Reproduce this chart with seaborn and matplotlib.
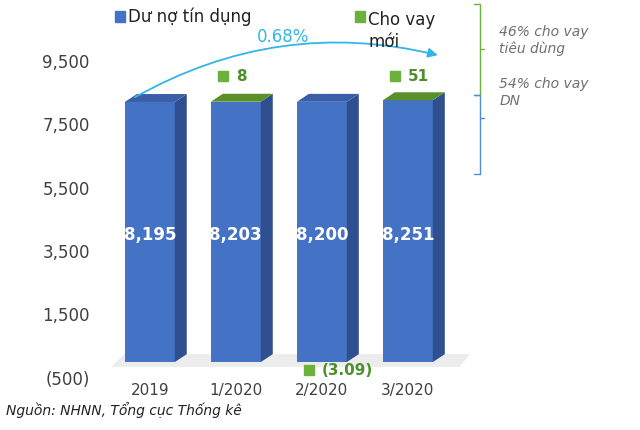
import matplotlib
matplotlib.use("Agg")
import matplotlib.pyplot as plt
import seaborn as sns
import pandas as pd
from matplotlib.patches import Polygon, FancyArrowPatch
from matplotlib.lines import Line2D

categories = ["2019", "1/2020", "2/2020", "3/2020"]
credit = [8195, 8203, 8200, 8251]
credit_labels = ["8,195", "8,203", "8,200", "8,251"]
new_loans = [None, "8", "(3.09)", "51"]
new_loan_y = [None, 9000, -250, 9000]
yticks = [-500, 1500, 3500, 5500, 7500, 9500]
ytick_labels = ["(500)", "1,500", "3,500", "5,500", "7,500", "9,500"]

sns.set_style("white")
fig = plt.figure(figsize=(6.4, 4.3), dpi=100)
ax = fig.add_axes([0.148, 0.121, 0.586, 0.812])
df = pd.DataFrame({"cat": categories, "val": credit})
sns.barplot(data=df, x="cat", y="val", color="#4472C4", width=0.58, ax=ax, saturation=1,
            zorder=3, linewidth=0)
bars = list(ax.patches)
ax.set_xlim(-0.64, 3.72)
ax.set_ylim(-500, 10500)

dx, dy = 0.14, 250
ax.add_patch(Polygon([(-0.45, -150), (3.6, -150), (3.72, 250), (-0.3, 250)], closed=True,
                     facecolor="#ececec", edgecolor="none", zorder=1))
for i, p in enumerate(bars):
    x, w, h = p.get_x(), p.get_width(), p.get_height()
    ax.add_patch(Polygon([(x + w, 0), (x + w + dx, dy), (x + w + dx, h + dy), (x + w, h)],
                         facecolor="#2f4f8f", edgecolor="none", zorder=3))
    top = "#5b8f2a" if new_loans[i] in ("8", "51") else "#3a5fa8"
    ax.add_patch(Polygon([(x, h), (x + dx, h + dy), (x + w + dx, h + dy), (x + w, h)],
                         facecolor=top, edgecolor="none", zorder=3))
    ax.text(x + w / 2, 4000, credit_labels[i], color="white", fontsize=12,
            fontweight="bold", ha="center", va="center", zorder=4)
    if new_loans[i]:
        ax.plot(x + w / 2 - 0.15, new_loan_y[i], "s", color="#6bb13b", ms=7, zorder=6)
        ax.text(x + w / 2 + 0.0, new_loan_y[i], new_loans[i], color="#4d8f2a",
                fontsize=11, fontweight="bold", va="center", zorder=6)

ax.add_patch(FancyArrowPatch((-0.2, 8300), (3.38, 9650), connectionstyle="arc3,rad=-0.2",
                             arrowstyle="-|>", mutation_scale=14, color="#33b5e5", lw=1.3, zorder=5))
ax.text(1.55, 10250, "0.68%", color="#33b5e5", fontsize=12, ha="center", va="center", zorder=5)

ax.set_yticks(yticks)
ax.set_yticklabels(ytick_labels, fontsize=12, color="#404040")
ax.tick_params(axis="x", labelsize=11, colors="#404040", length=0)
ax.tick_params(axis="y", length=0)
ax.set_xlabel("")
ax.set_ylabel("")
sns.despine(ax=ax, left=True, bottom=True)

fig.patches.append(plt.Rectangle((0.18, 0.95), 0.016, 0.024, color="#4472C4", transform=fig.transFigure))
fig.text(0.2, 0.962, "Dư nợ tín dụng", fontsize=12, va="center", color="#222222")
fig.patches.append(plt.Rectangle((0.555, 0.95), 0.016, 0.024, color="#6bb13b", transform=fig.transFigure))
fig.text(0.575, 0.975, "Cho vay\nmới", fontsize=12, va="top", color="#222222", linespacing=1.3)

fig.lines.append(Line2D([0.74, 0.75, 0.75, 0.74], [0.99, 0.99, 0.78, 0.78], color="#6bb13b", lw=1, transform=fig.transFigure))
fig.lines.append(Line2D([0.75, 0.757], [0.885, 0.885], color="#6bb13b", lw=1, transform=fig.transFigure))
fig.lines.append(Line2D([0.74, 0.75, 0.75, 0.74], [0.78, 0.78, 0.595, 0.595], color="#4a90d9", lw=1, transform=fig.transFigure))
fig.lines.append(Line2D([0.75, 0.757], [0.725, 0.725], color="#4a90d9", lw=1, transform=fig.transFigure))
fig.text(0.78, 0.905, "46% cho vay\ntiêu dùng", fontsize=10, style="italic", color="#707070", va="center")
fig.text(0.78, 0.785, "54% cho vay\nDN", fontsize=10, style="italic", color="#707070", va="center")
fig.text(0.01, 0.035, "Nguồn: NHNN, Tổng cục Thống kê", fontsize=10, style="italic", color="#222222")

fig.savefig("out.png", dpi=100)
